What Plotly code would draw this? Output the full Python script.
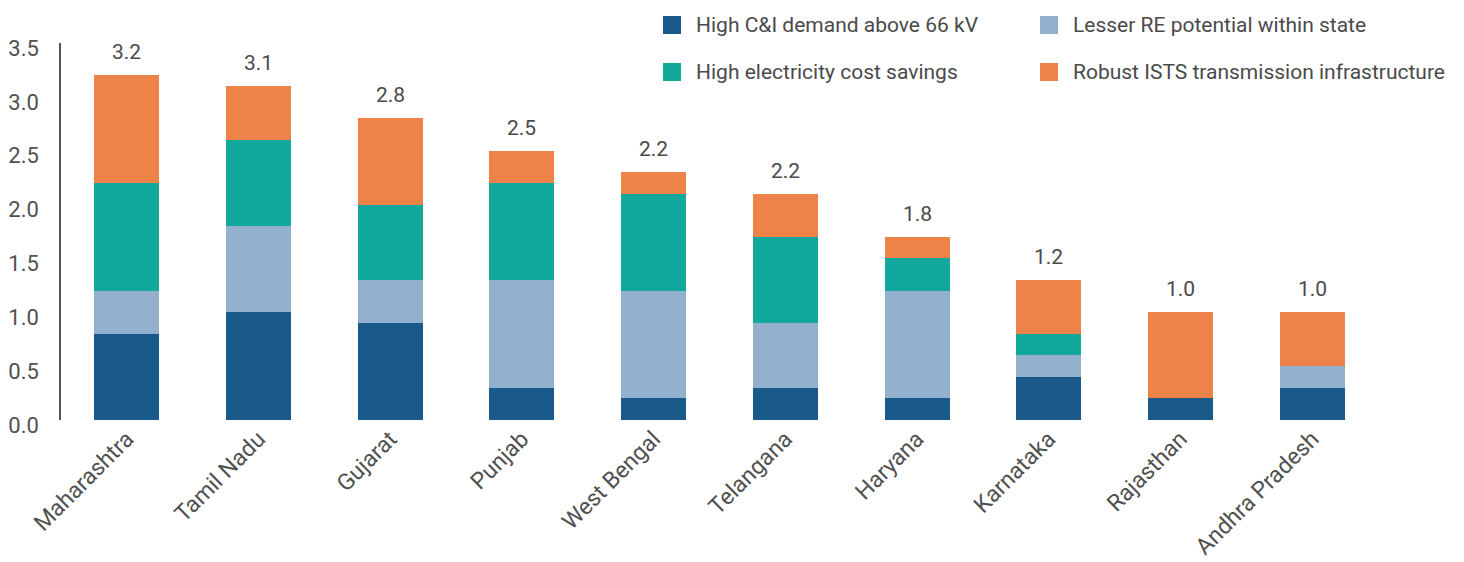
import plotly.graph_objects as go

states = ["Maharashtra", "Tamil Nadu", "Gujarat", "Punjab", "West Bengal",
          "Telangana", "Haryana", "Karnataka", "Rajasthan", "Andhra Pradesh"]
ci_demand = [0.8, 1.0, 0.9, 0.3, 0.2, 0.3, 0.2, 0.4, 0.2, 0.3]
lesser_re = [0.4, 0.8, 0.4, 1.0, 1.0, 0.6, 1.0, 0.2, 0.0, 0.2]
cost_savings = [1.0, 0.8, 0.7, 0.9, 0.9, 0.8, 0.3, 0.2, 0.0, 0.0]
ists_infra = [1.0, 0.5, 0.8, 0.3, 0.2, 0.4, 0.2, 0.5, 0.8, 0.5]
total_labels = ["3.2", "3.1", "2.8", "2.5", "2.2", "2.2", "1.8", "1.2", "1.0", "1.0"]
y_ticks = [0.0, 0.5, 1.0, 1.5, 2.0, 2.5, 3.0, 3.5]

series = [
    ("High C&I demand above 66 kV", ci_demand, "#1A5A8A"),
    ("Lesser RE potential within state", lesser_re, "#93B1CE"),
    ("High electricity cost savings", cost_savings, "#12A89D"),
    ("Robust ISTS transmission infrastructure", ists_infra, "#EE834A"),
]

W, H = 1464, 562
L, R, T, B = 61, 86, 43, 142
PW, PH = W - L - R, H - T - B
FONT = "Roboto, 'Open Sans', sans-serif"
TEXT = "#4a4a4a"


def px_x(px):
    return (px - L) / PW


def px_y(py):
    return (H - B - py) / PH


fig = go.Figure()
for name, vals, color in series:
    fig.add_trace(go.Bar(x=states, y=vals, name=name, marker_color=color,
                         marker_line_width=0, showlegend=False))

totals = [sum(v) for v in zip(ci_demand, lesser_re, cost_savings, ists_infra)]
for st, tot, lab in zip(states, totals, total_labels):
    fig.add_annotation(x=st, y=tot, text=lab, showarrow=False, yanchor="bottom",
                       yshift=9, font=dict(size=21, color=TEXT, family=FONT))

# manual two-column legend
legend_pos = [(663, 25), (1040, 25), (663, 72), (1040, 72)]
for (name, _, color), (lx, ly) in zip(series, legend_pos):
    fig.add_shape(type="rect", xref="paper", yref="paper",
                  x0=px_x(lx), x1=px_x(lx + 18), y0=px_y(ly - 9), y1=px_y(ly + 9),
                  fillcolor=color, line_width=0)
    fig.add_annotation(xref="paper", yref="paper", x=px_x(lx + 31), y=px_y(ly),
                       xanchor="left", yanchor="middle", showarrow=False, text=name,
                       font=dict(size=21, color=TEXT, family=FONT))

fig.update_layout(
    width=W, height=H, barmode="stack", bargap=0.506,
    margin=dict(l=L, r=R, t=T, b=B, autoexpand=False),
    paper_bgcolor="white", plot_bgcolor="white",
    font=dict(family=FONT, color=TEXT),
    xaxis=dict(range=[-0.5, 9.5], tickangle=-45, showgrid=False, showline=False,
               ticks="", automargin=False, tickfont=dict(size=23, color="#505050")),
    yaxis=dict(range=[0, 3.5], tickvals=y_ticks, ticktext=[f"{v:.1f}" for v in y_ticks],
               showgrid=False, zeroline=False, showline=True, linecolor="#555555",
               linewidth=1.5, ticks="", ticklabelstandoff=16, ticklabelshift=5,
               automargin=False, tickfont=dict(size=22, color="#505050")),
)

# drop the browser's default body margin so the figure sits at the page corner
fig.write_html("out.html", config={"displayModeBar": False},
               post_script="document.body.style.margin='0px';")
